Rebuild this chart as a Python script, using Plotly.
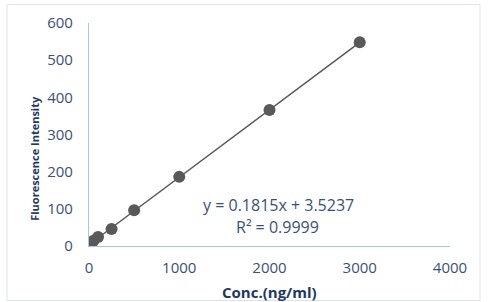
import numpy as np
import plotly.graph_objects as go

conc = [25, 50, 100, 250, 500, 1000, 2000, 3000]
intensity = [8, 14, 24, 46, 96, 186, 366, 548]
x_ticks = [0, 1000, 2000, 3000, 4000]
y_ticks = [0, 100, 200, 300, 400, 500, 600]

slope, intercept = 0.1815, 3.5237
fit_x = [min(conc), max(conc)]
fit_y = [slope * v + intercept for v in fit_x]

W, H = 489, 302
L, R, T, B = 89, 39, 21, 56

tick_color = "#3B5078"
title_color = "#1F3864"
axis_color = "#A9C4EB"
mark_color = "#595959"
font = "Open Sans"

fig = go.Figure()
fig.add_trace(go.Scatter(x=fit_x, y=fit_y, mode="lines",
                         line=dict(color=mark_color, width=1.5), showlegend=False))
fig.add_trace(go.Scatter(x=conc, y=intensity, mode="markers",
                         marker=dict(color=mark_color, size=12), showlegend=False))

fig.update_layout(
    width=W, height=H,
    margin=dict(l=L, r=R, t=T, b=B),
    paper_bgcolor="white", plot_bgcolor="white",
    font=dict(family=font, color=tick_color, size=15),
    xaxis=dict(range=[0, 4000], tickvals=x_ticks, showgrid=False, zeroline=False,
               showline=True, linecolor=axis_color, linewidth=1.2,
               ticks="", ticklabelstandoff=8, tickfont=dict(size=15, color=tick_color)),
    yaxis=dict(range=[0, 600], tickvals=y_ticks, showgrid=False, zeroline=False,
               showline=True, linecolor=axis_color, linewidth=1.2,
               ticks="", ticklabelstandoff=12, tickfont=dict(size=15, color=tick_color)),
    shapes=[dict(type="rect", xref="paper", yref="paper",
                 x0=(7 - L) / (W - L - R), x1=(480 - L) / (W - L - R),
                 y0=-(H - T - 246 + 20) / (H - T - B), y1=(H - 2.5 - B) / (H - T - B),
                 line=dict(color="#DCE3EE", width=1))],
    annotations=[
        dict(text="<b>Fluorescence Intensity</b>", textangle=-90, xref="paper", yref="paper",
             x=(35 - L) / (W - L - R), y=(H - 158 - B) / (H - T - B), xanchor="center", yanchor="middle",
             showarrow=False, font=dict(size=11, color=title_color, family=font)),
        dict(text="<b>Conc.(ng/ml)</b>", xref="paper", yref="paper",
             x=0.5, y=(H - 292 - B) / (H - T - B), xanchor="center", yanchor="middle",
             showarrow=False, font=dict(size=15, color=title_color, family=font)),
        dict(text="y = 0.1815x + 3.5237", xref="paper", yref="paper",
             x=(278 - L) / (W - L - R), y=(H - 205 - B) / (H - T - B), xanchor="center", yanchor="middle",
             showarrow=False, font=dict(size=16, color=tick_color, family=font)),
        dict(text="R² = 0.9999", xref="paper", yref="paper",
             x=(277 - L) / (W - L - R), y=(H - 227 - B) / (H - T - B), xanchor="center", yanchor="middle",
             showarrow=False, font=dict(size=16, color=tick_color, family=font)),
    ],
)

fig.write_html("out.html")
